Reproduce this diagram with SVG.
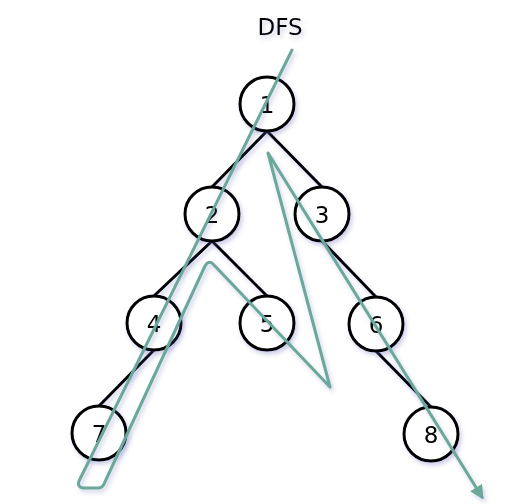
<svg xmlns="http://www.w3.org/2000/svg" width="523" height="504" viewBox="0 0 523 504">
<style>
.edge{stroke:#000;stroke-width:3;fill:none}
.node circle{fill:#fff;stroke:#000;stroke-width:3}
.node text,.title{font-family:"DejaVu Sans","Liberation Sans",sans-serif;font-size:23px;fill:#000;text-anchor:middle;dominant-baseline:central}
.path{stroke:#6aa89a;stroke-width:3;fill:none;stroke-linejoin:round;stroke-linecap:round}
</style>
<defs>
<filter id="sh" x="-20%" y="-20%" width="140%" height="140%">
<feDropShadow dx="2" dy="3" stdDeviation="2" flood-color="#6060b0" flood-opacity="0.3"/>
</filter>
<marker id="arr" viewBox="0 0 10 10" refX="8" refY="5" markerWidth="14" markerHeight="14" orient="auto" markerUnits="userSpaceOnUse">
<path d="M0,0 L10,5 L0,10 z" fill="#6aa89a"/>
</marker>
</defs>
<rect width="523" height="504" fill="#fff"/>
<text class="title" x="280" y="27" filter="url(#sh)">DFS</text>
<g id="edges" filter="url(#sh)">
<line class="edge" x1="267" y1="131" x2="212" y2="187"/>
<line class="edge" x1="267" y1="131" x2="322" y2="187"/>
<line class="edge" x1="212" y1="241" x2="154" y2="296"/>
<line class="edge" x1="212" y1="241" x2="267" y2="296"/>
<line class="edge" x1="154" y1="350" x2="99" y2="406"/>
<line class="edge" x1="322" y1="241" x2="376" y2="297"/>
<line class="edge" x1="376" y1="351" x2="431" y2="407"/>
</g>
<g id="n1" class="node" filter="url(#sh)"><circle cx="267" cy="104" r="27"/><text x="267" y="105">1</text></g>
<g id="n2" class="node" filter="url(#sh)"><circle cx="212" cy="214" r="27"/><text x="212" y="215">2</text></g>
<g id="n3" class="node" filter="url(#sh)"><circle cx="322" cy="214" r="27"/><text x="322" y="215">3</text></g>
<g id="n4" class="node" filter="url(#sh)"><circle cx="154" cy="323" r="27"/><text x="154" y="324">4</text></g>
<g id="n5" class="node" filter="url(#sh)"><circle cx="267" cy="323" r="27"/><text x="267" y="324">5</text></g>
<g id="n6" class="node" filter="url(#sh)"><circle cx="376" cy="324" r="27"/><text x="376" y="325">6</text></g>
<g id="n7" class="node" filter="url(#sh)"><circle cx="99" cy="433" r="27"/><text x="99" y="434">7</text></g>
<g id="n8" class="node" filter="url(#sh)"><circle cx="431" cy="434" r="27"/><text x="431" y="435">8</text></g>
<g id="connectors" filter="url(#sh)">
<path class="path" marker-end="url(#arr)" d="M292,50 L79,481 Q77,487 83,488 L98,488 Q102,488 104,484 L205,266 Q209,259 214,265 L330,387 L268,153 L482,497"/>
</g>
</svg>
